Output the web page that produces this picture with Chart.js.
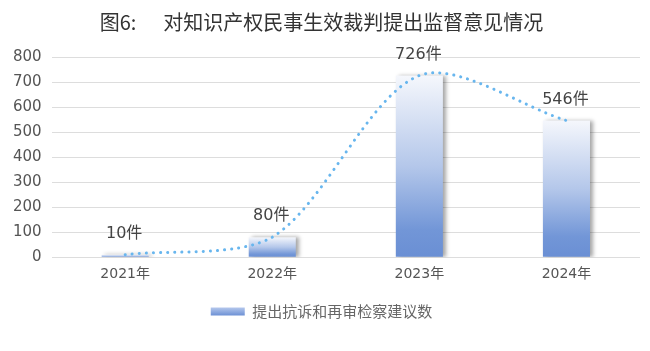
<!DOCTYPE html>
<html><head><meta charset="utf-8">
<script src="https://cdn.jsdelivr.net/npm/chart.js@4/dist/chart.umd.min.js"></script>
<style>html,body{margin:0;padding:0;background:#fff}#wrap{width:650px;height:351px}</style>
</head><body><div id="wrap"><canvas id="c"></canvas></div>
<script>
const categories = ['2021年','2022年','2023年','2024年'];
const counts = [10, 80, 726, 546];
const labelTexts = ['10件','80件','726件','546件'];
const seriesName = '提出抗诉和再审检察建议数';
const titleText = '图6:      对知识产权民事生效裁判提出监督意见情况';

const CJK = "'Noto Sans CJK SC','Noto Sans',sans-serif";
const NUM = "'DejaVu Sans','Noto Sans CJK SC',sans-serif";

function barFill(c) {
  const chart = c.chart;
  const ys = chart.scales.y;
  if (!ys || c.raw === undefined) return '#7b9bd8';
  const top = ys.getPixelForValue(c.raw);
  const bot = ys.getPixelForValue(0);
  if (!isFinite(top) || !isFinite(bot) || bot - top < 1) return '#6a8fd4';
  const g = chart.ctx.createLinearGradient(0, top, 0, bot);
  g.addColorStop(0, '#f5f7fc');
  g.addColorStop(0.5, '#b4c7ea');
  g.addColorStop(0.85, '#7296d7');
  g.addColorStop(1, '#6a8fd4');
  return g;
}

const barShadowPlugin = {
  id: 'barShadow',
  beforeDatasetDraw(chart, args) {
    if (args.index !== 0) return;
    const ctx = chart.ctx;
    ctx.save();
    ctx.shadowColor = 'rgba(0,0,0,0.35)';
    ctx.shadowBlur = 4;
    ctx.shadowOffsetX = 3;
    ctx.shadowOffsetY = 0;
  },
  afterDatasetDraw(chart, args) {
    if (args.index !== 0) return;
    chart.ctx.restore();
  }
};

const valueLabelPlugin = {
  id: 'valLabels',
  afterDatasetsDraw(chart) {
    const ctx = chart.ctx;
    const xs = chart.scales.x, ys = chart.scales.y;
    ctx.save();
    ctx.font = '16px ' + NUM;
    ctx.fillStyle = '#444';
    ctx.textAlign = 'center';
    ctx.textBaseline = 'middle';
    counts.forEach((v, i) => {
      const x = xs.getPixelForValue(i);
      const y = ys.getPixelForValue(v);
      ctx.fillText(labelTexts[i], x - 1, y - 21);
    });
    ctx.restore();
  }
};

new Chart(document.getElementById('c'), {
  data: {
    labels: categories,
    datasets: [
      {
        type: 'bar',
        label: seriesName,
        data: counts,
        backgroundColor: barFill,
        barPercentage: 0.32,
        categoryPercentage: 1,
        order: 2
      },
      {
        type: 'line',
        label: 'trend',
        data: counts,
        borderColor: '#68b6ee',
        borderWidth: 3,
        borderDash: [0.1, 7],
        borderCapStyle: 'round',
        pointRadius: 0,
        tension: 0.3,
        fill: false,
        order: 1
      }
    ]
  },
  options: {
    responsive: true,
    maintainAspectRatio: false,
    animation: false,
    layout: { padding: { left: 3, right: 10, top: 0, bottom: 22 } },
    plugins: {
      title: {
        display: true,
        text: titleText,
        color: '#333',
        font: { family: CJK, size: 20, weight: 'normal' },
        padding: { top: 10, bottom: 23 }
      },
      legend: {
        position: 'bottom',
        labels: {
          boxWidth: 34,
          boxHeight: 8,
          color: '#666',
          font: { family: CJK, size: 15 },
          padding: 10,
          generateLabels: chart => {
            const g = chart.ctx.createLinearGradient(0, 307, 0, 317);
            g.addColorStop(0, '#b9cbee');
            g.addColorStop(1, '#5f86d0');
            return [{
              text: seriesName,
              fillStyle: g,
              strokeStyle: 'rgba(0,0,0,0)',
              lineWidth: 0,
              datasetIndex: 0,
              fontColor: '#666'
            }];
          }
        }
      },
      tooltip: { enabled: false }
    },
    scales: {
      x: {
        grid: { display: false },
        border: { display: false },
        ticks: { color: '#555', font: { family: NUM, size: 14 }, padding: 1 },
        afterFit(scale) { scale.height += 10; }
      },
      y: {
        min: 0, max: 800,
        ticks: { stepSize: 100, color: '#555', font: { family: NUM, size: 15 }, padding: 10 },
        grid: { color: '#dddddd', lineWidth: 1, drawTicks: false },
        border: { display: false }
      }
    }
  },
  plugins: [barShadowPlugin, valueLabelPlugin]
});
</script></body></html>
